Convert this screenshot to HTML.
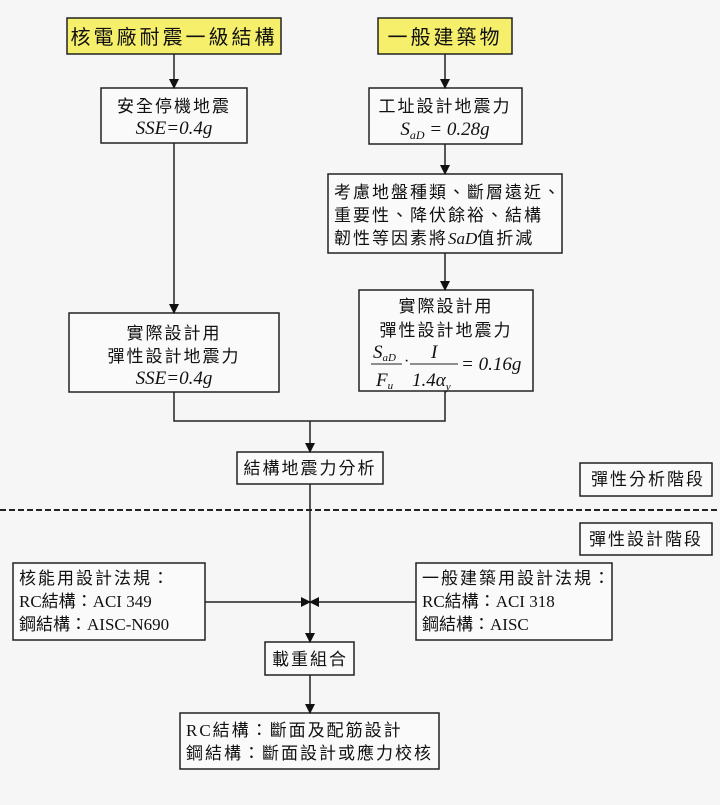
<!DOCTYPE html>
<html><head><meta charset="utf-8"><style>
html,body{margin:0;padding:0;background:#f6f6f6;}
svg{display:block;}
text{font-family:"Liberation Serif","Noto Sans CJK TC",serif;fill:#111;}
.c{font-size:17px;letter-spacing:2px;}
.i{font-style:italic;font-size:19px;}
.k{font-family:"Noto Sans CJK TC","Noto Sans CJK JP","WenQuanYi Zen Hei",sans-serif;}
</style></head><body>
<svg width="720" height="805" viewBox="0 0 720 805" xmlns="http://www.w3.org/2000/svg">
<defs><marker id="a" markerWidth="10" markerHeight="10" refX="9" refY="5" orient="auto" markerUnits="userSpaceOnUse"><path d="M0,0 L10,5 L0,10 Z" fill="#111"/></marker></defs>
<rect width="720" height="805" fill="#f6f6f6"/>
<g fill="none" stroke="#222" stroke-width="1.5">
<rect x="67" y="18" width="214" height="36" fill="#f5ef6c"/>
<rect x="378" y="18" width="134" height="36" fill="#f5ef6c"/>
<rect x="101" y="88" width="146" height="55" fill="#fafafa"/>
<rect x="369" y="88" width="153" height="56" fill="#fafafa"/>
<rect x="328" y="174" width="234" height="79" fill="#fafafa"/>
<rect x="359" y="290" width="174" height="101" fill="#fafafa"/>
<rect x="69" y="313" width="210" height="79" fill="#fafafa"/>
<rect x="237" y="452" width="146" height="32" fill="#fafafa"/>
<rect x="580" y="463" width="132" height="33" fill="#fafafa"/>
<rect x="580" y="523" width="132" height="32" fill="#fafafa"/>
<rect x="13" y="563" width="192" height="77" fill="#fafafa"/>
<rect x="416" y="563" width="196" height="77" fill="#fafafa"/>
<rect x="265" y="642" width="89" height="33" fill="#fafafa"/>
<rect x="180" y="713" width="259" height="56" fill="#fafafa"/>
<line x1="174" y1="54" x2="174" y2="88" marker-end="url(#a)"/>
<line x1="445" y1="54" x2="445" y2="88" marker-end="url(#a)"/>
<line x1="445" y1="144" x2="445" y2="174" marker-end="url(#a)"/>
<line x1="445" y1="253" x2="445" y2="290" marker-end="url(#a)"/>
<line x1="174" y1="143" x2="174" y2="313" marker-end="url(#a)"/>
<polyline points="174,392 174,421 445,421 445,391"/>
<line x1="310" y1="421" x2="310" y2="452" marker-end="url(#a)"/>
<line x1="310" y1="484" x2="310" y2="642" marker-end="url(#a)"/>
<line x1="205" y1="602" x2="310" y2="602" marker-end="url(#a)"/>
<line x1="416" y1="602" x2="310" y2="602" marker-end="url(#a)"/>
<line x1="310" y1="675" x2="310" y2="713" marker-end="url(#a)"/>
<line x1="0" y1="510" x2="720" y2="510" stroke-dasharray="6,3" stroke-width="2"/>
</g>
<text x="174" y="44" text-anchor="middle" style="font-size:20px;letter-spacing:3px">核電廠耐震一級結構</text>
<text x="445" y="44" text-anchor="middle" style="font-size:20px;letter-spacing:3px">一般建築物</text>
<text class="c" x="174" y="112" text-anchor="middle">安全停機地震</text>
<text class="i" x="174" y="134" text-anchor="middle">SSE=0.4g</text>
<text class="c" x="445" y="112" text-anchor="middle">工址設計地震力</text>
<text class="i" x="445" y="135" text-anchor="middle">S<tspan font-size="12" dy="4">aD</tspan><tspan dy="-4"> = 0.28g</tspan></text>
<text class="c" x="334" y="198">考慮地盤種類、斷層遠近、</text>
<text class="c" x="334" y="221">重要性、降伏餘裕、結構</text>
<text class="c" x="334" y="244">韌性等因素將<tspan font-style="italic" style="letter-spacing:0">SaD</tspan>值折減</text>
<text class="c" x="446" y="312" text-anchor="middle">實際設計用</text>
<text class="c" x="446" y="336" text-anchor="middle">彈性設計地震力</text>
<text class="i" x="373" y="358">S<tspan font-size="11" dy="3">aD</tspan></text>
<line x1="371" y1="364" x2="402" y2="364" stroke="#222" stroke-width="1"/>
<text class="i" x="376" y="386">F<tspan font-size="11" dy="3">u</tspan></text>
<text x="404" y="366" style="font-size:16px">·</text>
<text class="i" x="431" y="358">I</text>
<line x1="410" y1="364" x2="458" y2="364" stroke="#222" stroke-width="1"/>
<text class="i" x="412" y="386">1.4α<tspan font-size="11" dy="4">y</tspan></text>
<text class="i" x="461" y="370">= 0.16g</text>
<text class="c" x="174" y="339" text-anchor="middle">實際設計用</text>
<text class="c" x="174" y="362" text-anchor="middle">彈性設計地震力</text>
<text class="i" x="174" y="384" text-anchor="middle">SSE=0.4g</text>
<text class="c" x="310" y="474" text-anchor="middle">結構地震力分析</text>
<text class="c" x="648" y="485" text-anchor="middle">彈性分析階段</text>
<text class="c" x="646" y="545" text-anchor="middle">彈性設計階段</text>
<text class="c" x="19" y="584">核能用設計法規<tspan class="k">：</tspan></text>
<text class="c" x="19" y="607" style="letter-spacing:0">RC結構<tspan class="k">：</tspan>ACI 349</text>
<text class="c" x="19" y="630" style="letter-spacing:0">鋼結構<tspan class="k">：</tspan>AISC-N690</text>
<text class="c" x="422" y="584">一般建築用設計法規<tspan class="k">：</tspan></text>
<text class="c" x="422" y="607" style="letter-spacing:0">RC結構<tspan class="k">：</tspan>ACI 318</text>
<text class="c" x="422" y="630" style="letter-spacing:0">鋼結構<tspan class="k">：</tspan>AISC</text>
<text class="c" x="310" y="665" text-anchor="middle">載重組合</text>
<text class="c" x="186" y="736">RC結構<tspan class="k">：</tspan>斷面及配筋設計</text>
<text class="c" x="186" y="759">鋼結構<tspan class="k">：</tspan>斷面設計或應力校核</text>
</svg>
</body></html>
